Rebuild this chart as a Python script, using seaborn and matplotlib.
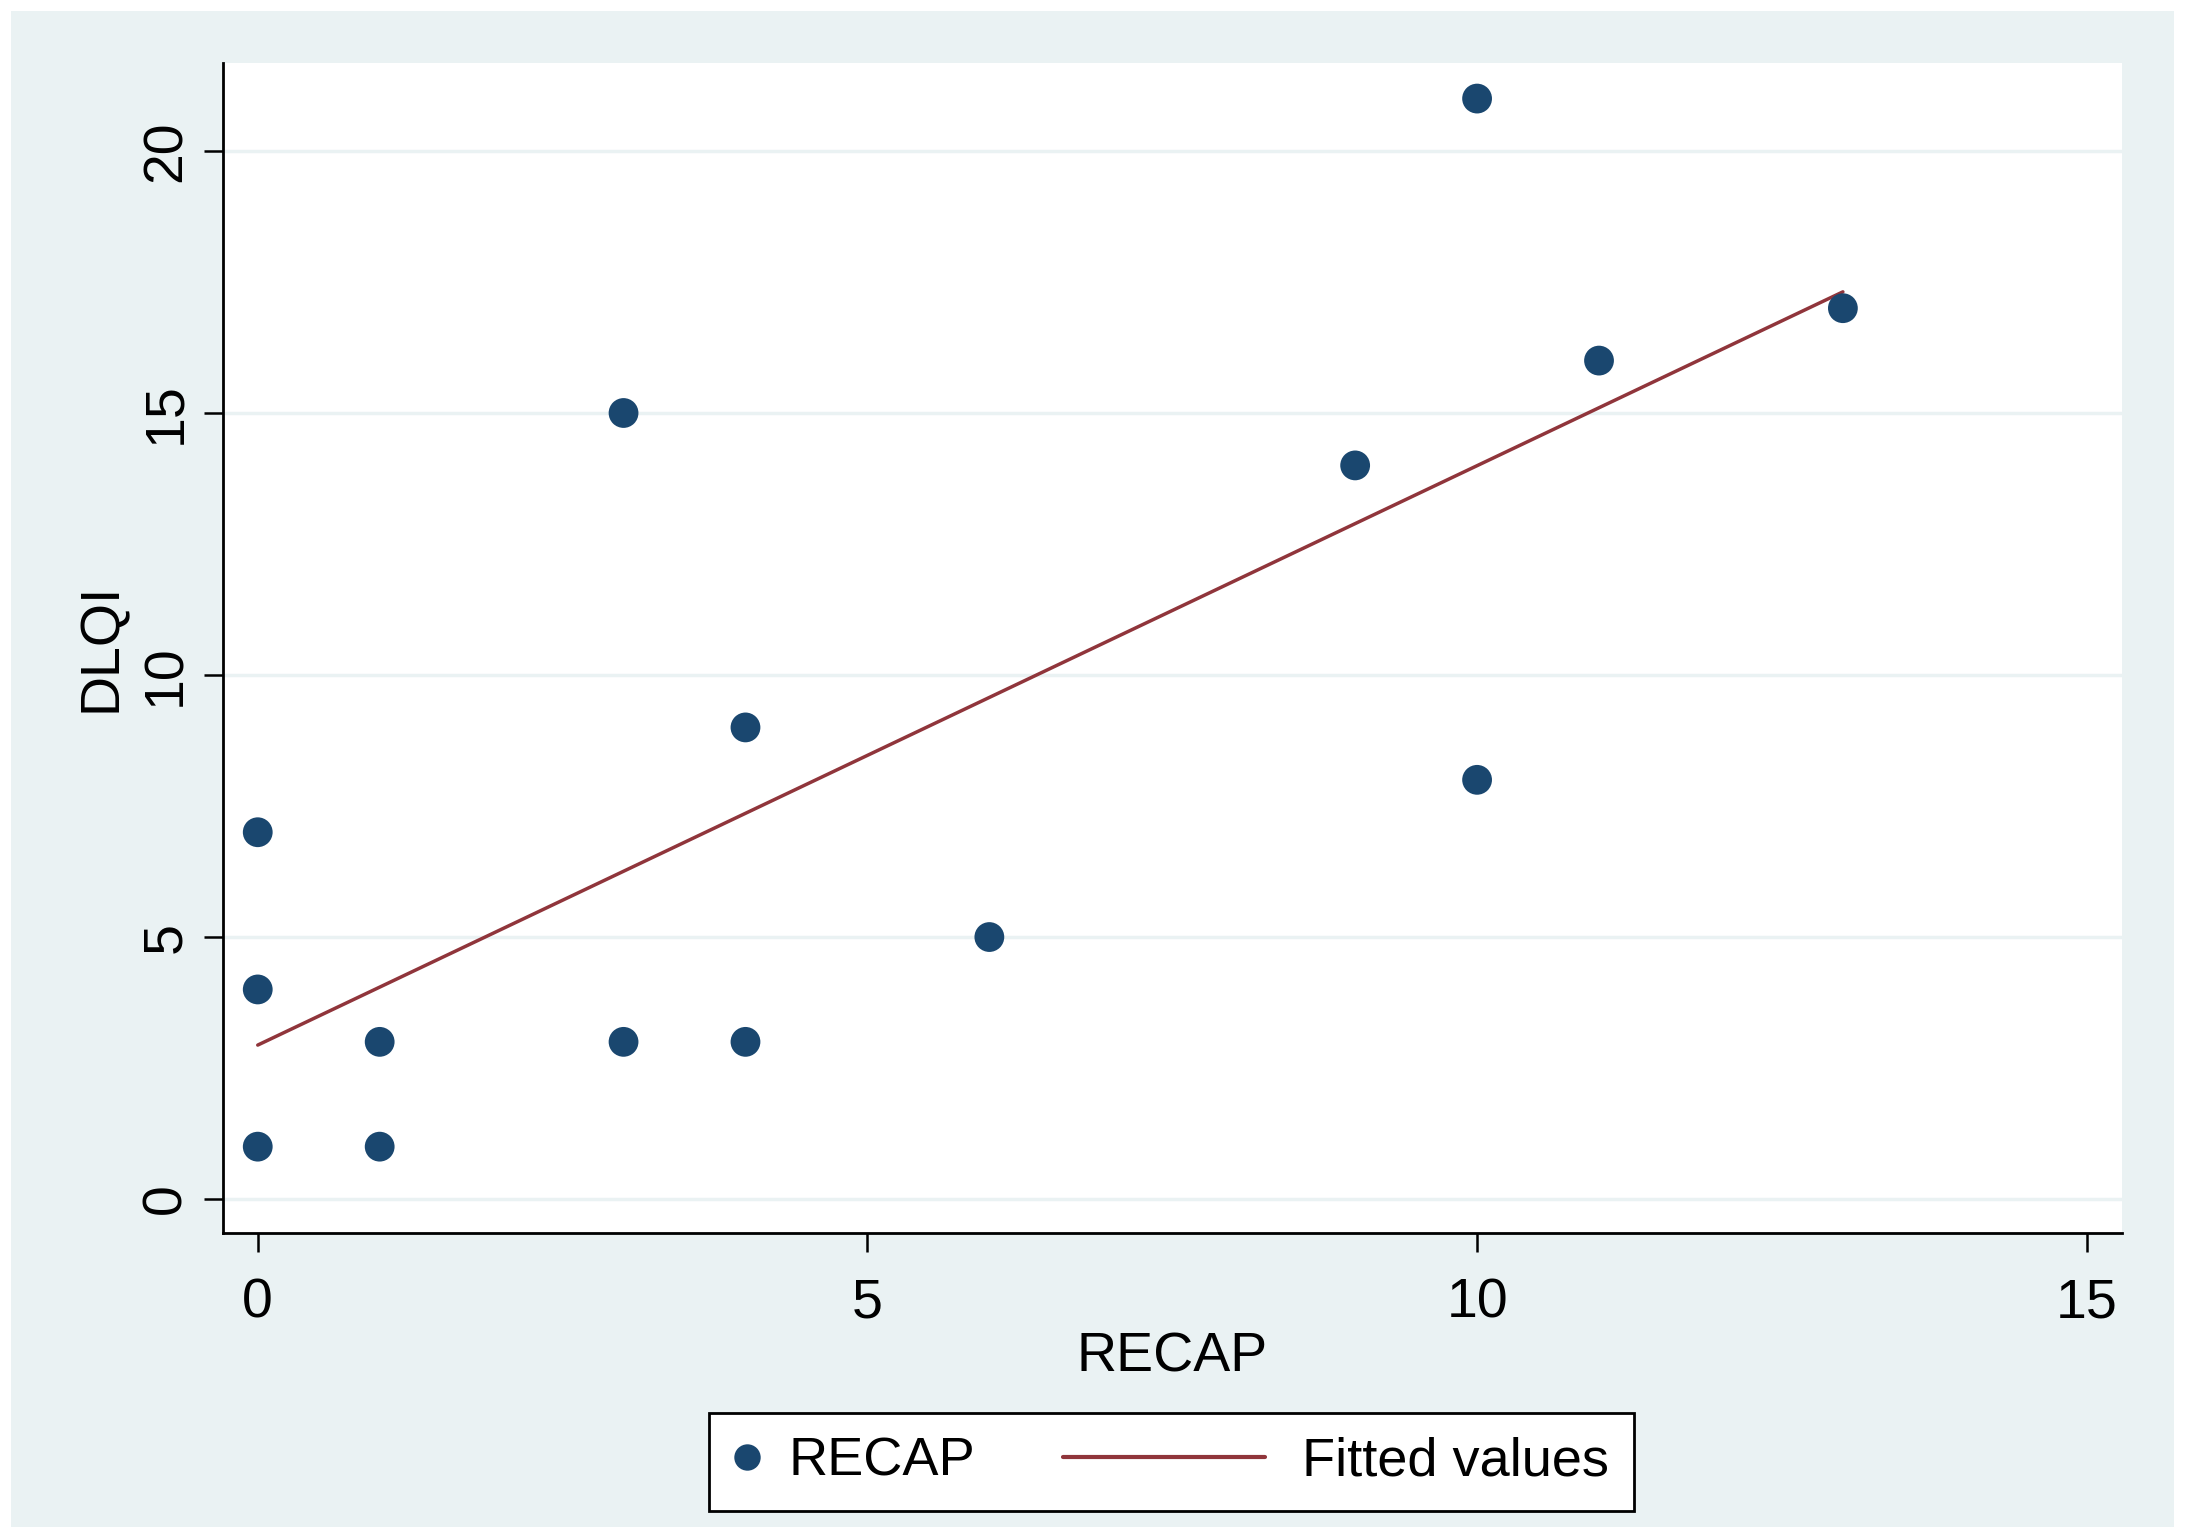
import matplotlib
matplotlib.use("Agg")
import matplotlib.pyplot as plt
import matplotlib.patches as mpatches
from matplotlib.lines import Line2D
from matplotlib.legend_handler import HandlerLine2D
import numpy as np
import seaborn as sns
import pandas as pd

# RECAP vs DLQI scores
recap = [0, 0, 0, 1, 1, 3, 3, 4, 4, 6, 9, 10, 10, 11, 13]
dlqi = [7, 4, 1, 3, 1, 15, 3, 9, 3, 5, 14, 21, 8, 16, 17]
x_ticks = [0, 5, 10, 15]
y_ticks = [0, 5, 10, 15, 20]

df = pd.DataFrame({"RECAP": recap, "DLQI": dlqi})

sns.set_theme(style="white")
plt.rcParams["font.family"] = ["Liberation Sans", "DejaVu Sans"]
plt.rcParams["text.color"] = "black"

navy = "#1A476F"
maroon = "#90353B"
bg = "#EAF2F3"


# legend line that reaches back to the left of its (short) handle box
class LongLine(HandlerLine2D):
    def get_xdata(self, legend, xdescent, ydescent, width, height, fontsize):
        end = width - 0.16 * fontsize
        xd = np.array([end - 3.73 * fontsize, end]) - xdescent
        return xd, xd


fig = plt.figure(figsize=(21.85, 15.35), dpi=100)
fig.patch.set_facecolor("white")
fig.patches.append(mpatches.Rectangle((11 / 2185, 8 / 1535), 2163 / 2185, 1516 / 1535,
                                      transform=fig.transFigure, facecolor=bg,
                                      edgecolor="none", zorder=-10))

ax = fig.add_axes([0.102, 0.197, 0.869, 0.762])
ax.set_facecolor("white")

sns.regplot(data=df, x="RECAP", y="DLQI", scatter=False, ci=None, ax=ax,
            line_kws={"color": maroon, "linewidth": 2.5, "zorder": 3})
sns.scatterplot(data=df, x="RECAP", y="DLQI", ax=ax, color=navy, s=460,
                edgecolor="none", zorder=4, legend=False)

ax.set_xlim(-0.286, 15.286)
ax.set_ylim(-0.64, 21.68)
ax.set_xticks(x_ticks)
ax.set_yticks(y_ticks)
ax.grid(axis="y", color=bg, linewidth=2.5)
ax.set_axisbelow(True)

for side in ["top", "right"]:
    ax.spines[side].set_visible(False)
for side in ["left", "bottom"]:
    ax.spines[side].set_color("black")
    ax.spines[side].set_linewidth(2)

ax.tick_params(axis="both", which="major", direction="out", length=14, width=1.8,
               color="black", labelsize=40, labelcolor="black",
               bottom=True, left=True)
ax.tick_params(axis="x", pad=18)
ax.tick_params(axis="y", pad=8)
for lab in ax.get_yticklabels():
    lab.set_rotation(90)
    lab.set_va("center")

ax.set_xlabel("RECAP", fontsize=40, labelpad=2, color="black")
ax.set_ylabel("DLQI", fontsize=40, labelpad=9, color="black")

dot = Line2D([], [], marker="o", linestyle="none", color=navy, markersize=19,
             markeredgewidth=0)
fit = Line2D([], [], color=maroon, linewidth=3)
leg = fig.legend([dot, fit], ["RECAP", "Fitted values"], loc="center",
                 bbox_to_anchor=(0.536, 0.0476), ncol=2, fontsize=39,
                 frameon=True, fancybox=False, edgecolor="black", framealpha=1,
                 handlelength=0.5, columnspacing=5.0, handletextpad=0.53,
                 borderpad=0.45, borderaxespad=0,
                 handler_map={fit: LongLine()})
leg.get_frame().set_linewidth(2)
leg.get_frame().set_facecolor("white")

fig.savefig("out.png", dpi=100, facecolor=fig.get_facecolor())
